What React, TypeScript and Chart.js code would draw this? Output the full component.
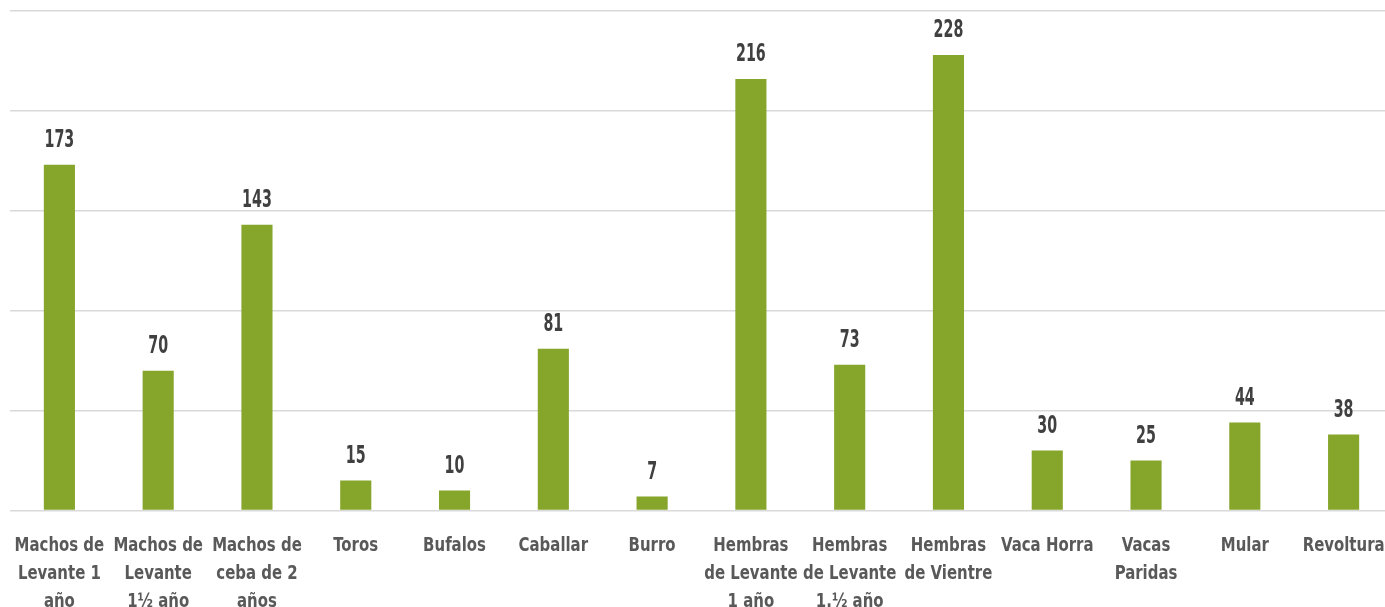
import React, { useEffect, useRef } from "react";
import { Chart, registerables } from "chart.js";

Chart.register(...registerables);

const categories: (string | string[])[] = [
  ["Machos de", "Levante 1", "año"],
  ["Machos de", "Levante", "1½ año"],
  ["Machos de", "ceba de 2", "años"],
  "Toros",
  "Bufalos",
  "Caballar",
  "Burro",
  ["Hembras", "de Levante", "1 año"],
  ["Hembras", "de Levante", "1.½ año"],
  ["Hembras", "de Vientre"],
  "Vaca Horra",
  ["Vacas", "Paridas"],
  "Mular",
  "Revoltura",
];

const values: number[] = [173, 70, 143, 15, 10, 81, 7, 216, 73, 228, 30, 25, 44, 38];

const yMin = 0;
const yMax = 250;
const yStep = 50;

const FONT = "'DejaVu Sans Condensed', 'DejaVu Sans', sans-serif";

// Draws value labels above bars and category labels under the axis, in a condensed face.
const textPlugin = {
  id: "textPlugin",
  afterDatasetsDraw(chart: any) {
    const ctx = chart.ctx;
    const meta = chart.getDatasetMeta(0);
    ctx.save();
    ctx.font = `bold 24px ${FONT}`;
    ctx.fillStyle = "#404040";
    ctx.textAlign = "center";
    ctx.textBaseline = "alphabetic";
    meta.data.forEach((bar: any, i: number) => {
      ctx.save();
      ctx.translate(bar.x, bar.y - 17.5);
      ctx.scale(0.66, 1);
      ctx.fillText(String(values[i]), 0, 0);
      ctx.restore();
    });

    const xs = chart.scales.x;
    const top = xs.top;
    ctx.font = `bold 20px ${FONT}`;
    ctx.fillStyle = "#595959";
    categories.forEach((c, i) => {
      const lines = Array.isArray(c) ? c : [c];
      const x = xs.getPixelForTick(i);
      lines.forEach((ln, j) => {
        ctx.save();
        ctx.translate(x, top + 40.5 + j * 28);
        ctx.scale(0.83, 1);
        ctx.fillText(ln, 0, 0);
        ctx.restore();
      });
    });
    ctx.restore();
  },
};

export default function App() {
  const ref = useRef<HTMLCanvasElement>(null);
  useEffect(() => {
    if (!ref.current) return;
    const chart = new Chart(ref.current, {
      type: "bar",
      data: {
        labels: categories,
        datasets: [
          {
            data: values,
            backgroundColor: "#86A52B",
            barPercentage: 1,
            categoryPercentage: 0.315,
          },
        ],
      },
      options: {
        animation: false,
        responsive: true,
        maintainAspectRatio: false,
        layout: { padding: { left: 10, right: 2, top: 11, bottom: 0 } },
        plugins: { legend: { display: false }, tooltip: { enabled: false } },
        scales: {
          x: {
            grid: { display: false, drawTicks: false },
            border: { display: false },
            ticks: { display: false, autoSkip: false },
            afterFit(scale: any) {
              scale.height = 96.5;
              scale.paddingLeft = 0;
              scale.paddingRight = 0;
            },
          },
          y: {
            min: yMin,
            max: yMax,
            ticks: { display: false, stepSize: yStep },
            border: { display: false },
            grid: { color: "#D9D9D9", lineWidth: 1.5, drawTicks: false },
            afterFit(scale: any) {
              scale.width = 0;
            },
          },
        },
      },
      plugins: [textPlugin],
    });
    return () => chart.destroy();
  }, []);
  return (
    <div style={{ position: "fixed", left: 0, top: 0, width: 1385, height: 607, overflow: "hidden", background: "#fff" }}>
      <div style={{ position: "relative", width: 1395, height: 607 }}>
        <canvas ref={ref} />
      </div>
    </div>
  );
}
